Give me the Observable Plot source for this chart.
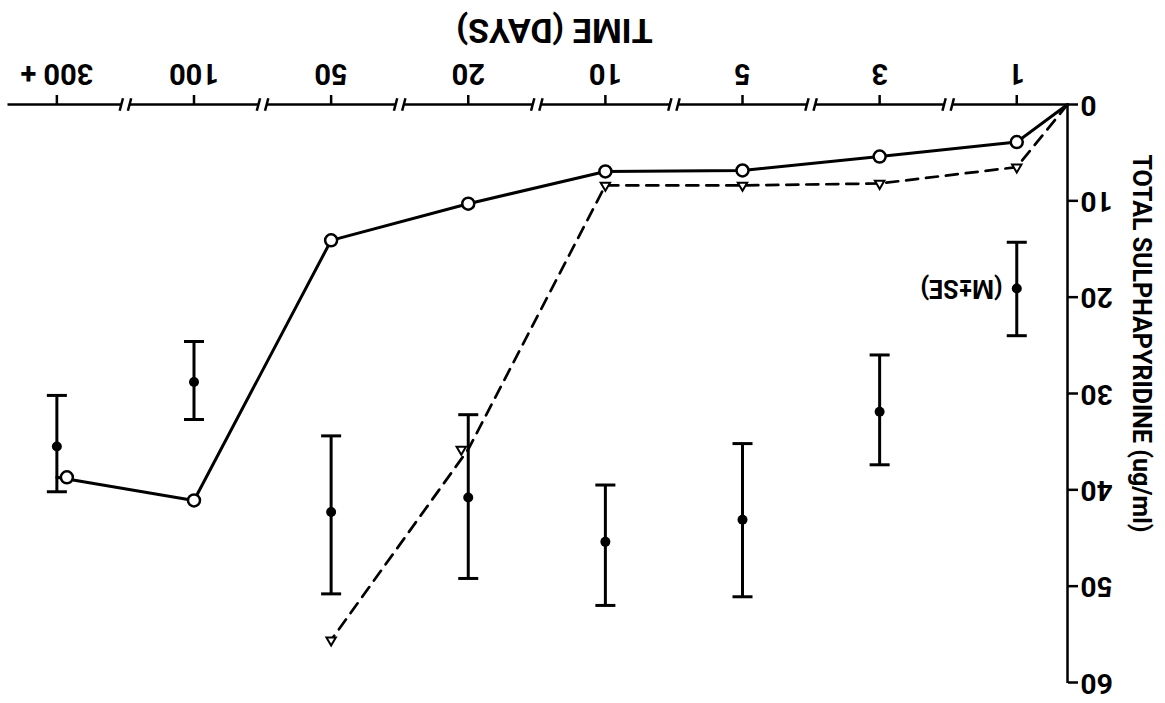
<!DOCTYPE html>
<html>
<head>
<meta charset="utf-8">
<script src="https://cdn.jsdelivr.net/npm/d3@7"></script>
<script src="https://cdn.jsdelivr.net/npm/@observablehq/plot@0.6"></script>
<style>
  html, body { margin: 0; padding: 0; background: #fff; }
  #chart svg { display: block; transform: rotate(180deg); transform-origin: 50% 50%; }
</style>
</head>
<body>
<div id="chart"></div>
<script>
// ---- data read from the (upside-down) figure ----
const days = ["1", "3", "5", "10", "20", "50", "100", "300 +"];
const originPos = 0.63;      // where day 0 sits on the broken axis
const axisEndPos = 8.36;     // end of the broken time axis
const openCircleValues = [3.9, 5.4, 6.85, 6.95, 10.3, 14.1, 41.1, 38.7];
const triangleDays = ["1", "3", "5", "10", "20", "50"];
const triangleValues = [6.5, 8.2, 8.4, 8.4, 35.8, 55.6];
const meanValues = [19.1, 31.9, 43.1, 45.4, 40.8, 42.3, 28.8, 35.5];
const seLow = [14.3, 26.0, 35.2, 39.5, 32.2, 34.4, 24.6, 30.2];
const seHigh = [24.0, 37.4, 51.1, 52.0, 49.2, 50.8, 32.7, 40.2];
const yTicks = [0, 10, 20, 30, 40, 50, 60];
const xTitle = "TIME (DAYS)";
const yTitle = "TOTAL SULPHAPYRIDINE (ug/ml)";
const seLabel = "(M\u00B1SE)";

// ---- derived tables ----
const pos = d => days.indexOf(d) + 1;
const circles = days.map((d, i) => ({day: d, x: pos(d), y: openCircleValues[i]}));
const solidLine = [{x: originPos, y: 0}, ...circles];
const triangles = triangleDays.map((d, i) => ({day: d, x: pos(d), y: triangleValues[i]}));
const dashedLine = [{x: originPos, y: 0}, ...triangles];
const errs = days.map((d, i) => ({day: d, x: pos(d), mean: meanValues[i], lo: seLow[i], hi: seHigh[i]}));
const capHalf = 0.073;
const breaks = days.slice(1).map((d, i) => i + 1.5);
const gap = 0.03;
const edges = [originPos, ...breaks.flatMap(b => [b - gap, b + gap]), axisEndPos];
const segments = [];
for (let i = 0; i < edges.length; i += 2) segments.push({x1: edges[i], x2: edges[i + 1]});
const slashes = breaks.flatMap(b => [b - gap, b + gap]);

const font = "Roboto, 'Noto Sans', sans-serif";
const last = days[days.length - 1];

const chart = Plot.plot({
  width: 1165,
  height: 703,
  marginLeft: 97,
  marginRight: 8,
  marginTop: 20,
  marginBottom: 105,
  style: {fontFamily: font, fontWeight: "bold", background: "#fff", color: "#000"},
  x: {type: "linear", domain: [originPos, axisEndPos]},
  y: {type: "linear", domain: [0, 60]},
  marks: [
    // broken time axis
    Plot.link(segments, {x1: "x1", x2: "x2", y1: 0, y2: 0, stroke: "#000", strokeWidth: 2.5}),
    Plot.link(slashes, {x1: d => d - 0.012, x2: d => d + 0.012, y1: -0.65, y2: 0.65, stroke: "#000", strokeWidth: 2.5}),
    Plot.ruleX([originPos], {y1: 0, y2: 60, stroke: "#000", strokeWidth: 2.5}),
    Plot.axisX({ticks: days.map(pos), tickFormat: v => days[v - 1], tickSize: 10, tickPadding: 10,
      fontSize: 29, fontFamily: font, fontWeight: "bold", strokeWidth: 2.5, label: null}),
    Plot.axisY({ticks: yTicks, tickSize: 10, tickPadding: 3, fontSize: 28, fontFamily: font,
      fontWeight: "bold", strokeWidth: 2.5, label: null}),
    Plot.text([xTitle], {frameAnchor: "bottom", dy: 86, dx: -17, fontSize: 34, fontFamily: font, fontWeight: "bold", fill: "#000"}),
    Plot.text([yTitle], {frameAnchor: "left", textAnchor: "middle", dx: -73, dy: 50, rotate: -90, fontSize: 25, fontFamily: font, fontWeight: "bold", fill: "#000"}),
    // error bars (mean ± SE)
    Plot.ruleX(errs, {x: "x", y1: "lo", y2: "hi", stroke: "#000", strokeWidth: 3}),
    Plot.link(errs, {x1: d => d.x - capHalf, x2: d => d.x + capHalf, y1: "lo", y2: "lo", stroke: "#000", strokeWidth: 3}),
    Plot.link(errs, {x1: d => d.x - capHalf, x2: d => d.x + capHalf, y1: "hi", y2: "hi", stroke: "#000", strokeWidth: 3}),
    Plot.dot(errs, {x: "x", y: "mean", r: 5, fill: "#000"}),
    Plot.text(errs.filter(d => d.day === "1"), {x: "x", y: "mean", text: () => seLabel, dx: 14, textAnchor: "start",
      fontSize: 25, fontFamily: font, fontWeight: "bold", fill: "#000"}),
    // lines
    Plot.line(dashedLine, {x: "x", y: "y", stroke: "#000", strokeWidth: 2.7, strokeDasharray: "12,8"}),
    Plot.line(solidLine, {x: "x", y: "y", stroke: "#000", strokeWidth: 3}),
    Plot.dot(triangles.filter(d => d.day !== "20"), {x: "x", y: "y", symbol: "triangle", r: 3.5, fill: "#fff", stroke: "#000", strokeWidth: 2}),
    Plot.dot(triangles.filter(d => d.day === "20"), {x: "x", y: "y", symbol: "triangle", r: 3.5, dx: 7, fill: "#fff", stroke: "#000", strokeWidth: 2}),
    Plot.dot(circles.filter(d => d.day !== last), {x: "x", y: "y", r: 6, fill: "#fff", stroke: "#000", strokeWidth: 2.5}),
    Plot.dot(circles.filter(d => d.day === last), {x: "x", y: "y", r: 6, dx: -10, fill: "#fff", stroke: "#000", strokeWidth: 2.5})
  ]
});
document.getElementById("chart").append(chart);
</script>
</body>
</html>
